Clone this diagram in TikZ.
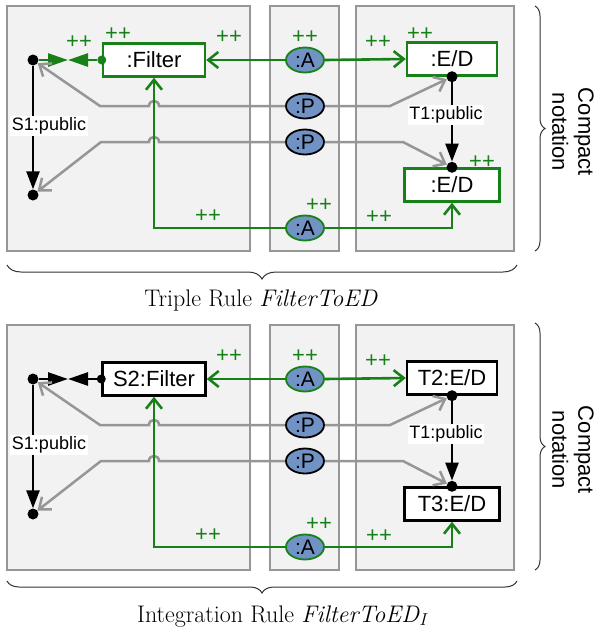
\documentclass[tikz,border=0pt]{standalone}
\usepackage{fontspec}
\newfontfamily\lsans{Liberation Sans}
\usetikzlibrary{arrows.meta,decorations.pathreplacing,shapes.geometric}
\definecolor{gr}{RGB}{24,128,24}
\definecolor{lgray}{RGB}{150,150,150}
\definecolor{panelfill}{RGB}{242,242,242}
\definecolor{steel}{RGB}{112,146,196}
\begin{document}
\begin{tikzpicture}[x=1pt,y=-1pt,
  panel/.style={draw=lgray, fill=panelfill, line width=1.8pt},
  objbox/.style={draw=black, fill=white, line width=2.4pt, minimum height=33pt, inner sep=0pt, font=\lsans\fontsize{22}{24}\selectfont},
  gobj/.style={objbox, draw=gr},
  ell/.style={ellipse, fill=steel, draw=black, line width=1.8pt, minimum width=38pt, minimum height=25pt, inner sep=0pt, font=\lsans\fontsize{21}{22}\selectfont},
  gell/.style={ell, draw=gr},
  pp/.style={text=gr, font=\lsans\fontsize{22}{22}\selectfont, inner sep=0pt},
  dotn/.style={circle, fill=black, inner sep=0pt, minimum size=11pt},
  gdotn/.style={circle, fill=gr, inner sep=0pt, minimum size=9pt},
  gline/.style={draw=gr, line width=2.6pt},
  grayline/.style={draw=lgray, line width=2.5pt},
  barb/.style={-{Straight Barb[length=10pt,width=16pt]}},
  elabel/.style={fill=white, inner sep=1.5pt, font=\lsans\fontsize{18}{20}\selectfont},
  tri/.style={-{Triangle[length=18pt,width=13pt]}},
  comp/.style={line width=2.6pt, -{Triangle[length=20pt,width=13pt]}},
  bracel/.style={decorate, line width=1pt, draw=black!80},
  capt/.style={font=\fontsize{24}{28}\selectfont, anchor=base, inner sep=0pt},
]
\useasboundingbox (0,0) rectangle (598,630);

% ---------------- top panel ----------------
\path[panel] (7,6) rectangle (250,251);
\path[panel] (270,6) rectangle (339,251);
\path[panel] (356,6) rectangle (514,251);

\node[gobj, minimum width=102pt] (F) at (154,60) {:Filter};
\node[gobj, minimum width=90pt] (E1) at (452,59) {:E/D};
\node[gobj, minimum width=95pt] (E2) at (452,185) {:E/D};
\node[gell] (A1) at (305,60) {:A};
\node[ell] (P1) at (305,106) {:P};
\node[ell] (P2) at (305,142) {:P};
\node[gell] (A2) at (305,228) {:A};
\node[dotn] (d1) at (33,60) {};
\node[dotn] (d2) at (33,195) {};
\node[dotn] (t1) at (E1.south) {};
\node[dotn] (t2) at (E2.north) {};
\node[gdotn] (gd) at (F.west) {};
\coordinate (m) at (68,60);

\draw[gr, comp] (d1) -- (m);
\draw[gr, comp] (gd) -- (m);

\draw[grayline, barb] (P1.west) -- (159,106) .. controls (159,99.3) and (149,99.3) .. (149,106) -- (100,106) -- (d1);
\draw[grayline, barb] (P1.east) -- (390,106) -- (t1);
\draw[grayline, barb] (P2.west) -- (159,142) .. controls (159,135.3) and (149,135.3) .. (149,142) -- (101,142) -- (d2);
\draw[grayline, barb] (P2.east) -- (403,142) -- (t2);

\draw[gline, barb] (A1.west) -- (F.east);
\draw[gline, barb] (A1.east) -- (E1.west);
\draw[gline, barb] (A2.west) -- (154,228) -- (F.south);
\draw[gline, barb] (A2.east) -- (452,228) -- (E2.south);

\draw[line width=2.5pt, tri] (d1) -- (d2);
\draw[line width=2.5pt, tri] (t1) -- (t2);
\node[elabel] (s1l) at (49,126) {S1:public};
\node[elabel] (t1l) at (446,115) {T1:public};

\node[pp] (pa) at (118,34) {++};
\node[pp] (pb) at (79,42) {++};
\node[pp] (pc) at (229,37) {++};
\node[pp] (pd) at (305,37) {++};
\node[pp] (pe) at (378,42) {++};
\node[pp] (pf) at (420,34) {++};
\node[pp] (pg) at (482,162) {++};
\node[pp] (ph) at (319,205) {++};
\node[pp] (pi) at (379,217) {++};
\node[pp] (pj) at (208,216) {++};

\draw[bracel, decoration={brace, amplitude=10pt}] (535,6) -- (535,251);
\node[rotate=-90, align=center, font=\lsans\fontsize{22}{26}\selectfont] (cn1) at (573,132) {Compact\\notation};
\draw[bracel, decoration={brace, amplitude=14pt}] (517,265) -- (7,265);
\node[capt] (cap1) at (261,306) {Triple Rule \textit{FilterToED}};

% ---------------- bottom panel ----------------
\begin{scope}[shift={(0,319)}]
\path[panel] (7,6) rectangle (250,251);
\path[panel] (270,6) rectangle (339,251);
\path[panel] (356,6) rectangle (514,251);

\node[objbox, minimum width=103pt] (bF) at (154,60) {S2:Filter};
\node[objbox, minimum width=90pt] (bE1) at (452,59) {T2:E/D};
\node[objbox, minimum width=95pt] (bE2) at (452,185) {T3:E/D};
\node[gell] (bA1) at (305,60) {:A};
\node[ell] (bP1) at (305,106) {:P};
\node[ell] (bP2) at (305,142) {:P};
\node[gell] (bA2) at (305,228) {:A};
\node[dotn] (bd1) at (33,60) {};
\node[dotn] (bd2) at (33,195) {};
\node[dotn] (bt1) at (bE1.south) {};
\node[dotn] (bt2) at (bE2.north) {};
\node[dotn, minimum size=9pt] (bgd) at (bF.west) {};
\coordinate (bm) at (68,60);

\draw[comp] (bd1) -- (bm);
\draw[comp] (bgd) -- (bm);

\draw[grayline, barb] (bP1.west) -- (159,106) .. controls (159,99.3) and (149,99.3) .. (149,106) -- (100,106) -- (bd1);
\draw[grayline, barb] (bP1.east) -- (390,106) -- (bt1);
\draw[grayline, barb] (bP2.west) -- (159,142) .. controls (159,135.3) and (149,135.3) .. (149,142) -- (101,142) -- (bd2);
\draw[grayline, barb] (bP2.east) -- (403,142) -- (bt2);

\draw[gline, barb] (bA1.west) -- (bF.east);
\draw[gline, barb] (bA1.east) -- (bE1.west);
\draw[gline, barb] (bA2.west) -- (154,228) -- (bF.south);
\draw[gline, barb] (bA2.east) -- (452,228) -- (bE2.south);

\draw[line width=2.5pt, tri] (bd1) -- (bd2);
\draw[line width=2.5pt, tri] (bt1) -- (bt2);
\node[elabel] (bs1l) at (49,126) {S1:public};
\node[elabel] (bt1l) at (446,115) {T1:public};

\node[pp] (bpc) at (229,37) {++};
\node[pp] (bpd) at (305,37) {++};
\node[pp] (bpe) at (378,42) {++};
\node[pp] (bph) at (319,205) {++};
\node[pp] (bpi) at (379,217) {++};
\node[pp] (bpj) at (208,216) {++};
\end{scope}

\draw[bracel, decoration={brace, amplitude=10pt}] (535,323) -- (535,570);
\node[rotate=-90, align=center, font=\lsans\fontsize{22}{26}\selectfont] (cn2) at (573,450) {Compact\\notation};
\draw[bracel, decoration={brace, amplitude=12pt}] (517,581) -- (7,581);
\node[capt] (cap2) at (283,622) {Integration Rule \textit{FilterToED}$_I$};
\end{tikzpicture}
\end{document}
